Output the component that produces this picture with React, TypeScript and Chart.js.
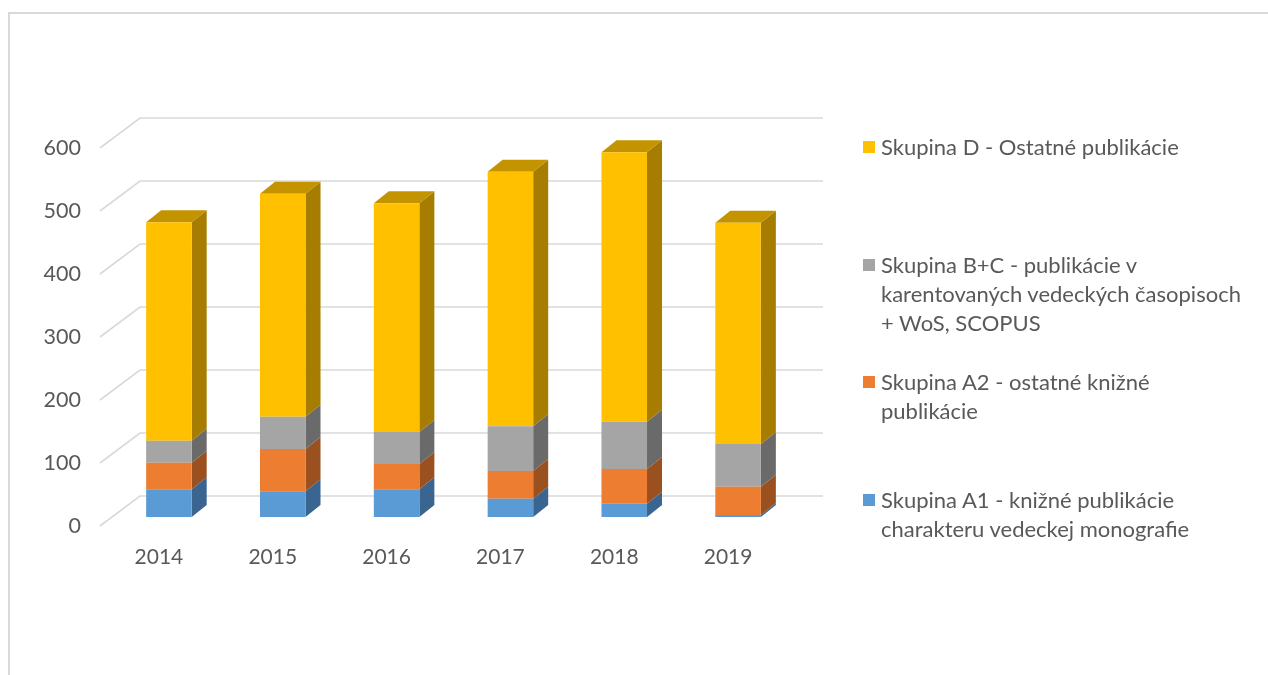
import React, { useEffect, useRef } from "react";
import { Chart, registerables } from "chart.js";

Chart.register(...registerables);

const years = ["2014", "2015", "2016", "2017", "2018", "2019"];
const groupA1 = [44, 41, 44, 29, 21, 3];
const groupA2 = [42, 67, 40, 44, 55, 45];
const groupBC = [35, 51, 51, 71, 75, 68];
const groupD = [347, 354, 363, 404, 428, 351];
const yTicks = [0, 100, 200, 300, 400, 500, 600];

const legendItems = [
  { color: "#ffc000", lines: ["Skupina D - Ostatné publikácie"], top: 132 },
  {
    color: "#a5a5a5",
    lines: ["Skupina B+C - publikácie v", "karentovaných vedeckých časopisoch", "+ WoS, SCOPUS"],
    top: 250,
  },
  { color: "#ed7d31", lines: ["Skupina A2 - ostatné knižné", "publikácie"], top: 367 },
  { color: "#5b9bd5", lines: ["Skupina A1 - knižné publikácie", "charakteru vedeckej monografie"], top: 485 },
];

const FONT = "Lato, 'Liberation Sans', sans-serif";
const TEXT = "#595959";

const DX = 15;
const DY = 12;
const WALL_DX = 28;
const WALL_DY = 21;

const sideColors = ["#3a6591", "#9b501f", "#6a6a6a", "#a67d00"];
const topColor = "#c49400";

const threeD = {
  id: "threeD",
  beforeDatasetsDraw(chart: any) {
    const ctx = chart.ctx;
    const area = chart.chartArea;
    const ys = chart.scales.y;
    ctx.save();
    ctx.strokeStyle = "#d9d9d9";
    ctx.lineWidth = 1.6;
    yTicks.forEach((v) => {
      const y = ys.getPixelForValue(v);
      ctx.beginPath();
      ctx.moveTo(area.left - 12, y + 9);
      ctx.lineTo(area.left + WALL_DX, y - WALL_DY);
      ctx.lineTo(area.right + WALL_DX, y - WALL_DY);
      ctx.stroke();
    });
    const n = chart.data.datasets.length;
    for (let d = 0; d < n; d++) {
      const meta = chart.getDatasetMeta(d);
      meta.data.forEach((bar: any) => {
        const { x, y, base, width } = bar.getProps(["x", "y", "base", "width"], true);
        const r = x + width / 2;
        const l = x - width / 2;
        const top = Math.min(y, base);
        const bot = Math.max(y, base);
        if (bot - top < 0.1) return;
        ctx.fillStyle = sideColors[d];
        ctx.beginPath();
        ctx.moveTo(r, top);
        ctx.lineTo(r + DX, top - DY);
        ctx.lineTo(r + DX, bot - DY);
        ctx.lineTo(r, bot);
        ctx.closePath();
        ctx.fill();
        if (d === n - 1) {
          ctx.fillStyle = topColor;
          ctx.beginPath();
          ctx.moveTo(l, top);
          ctx.lineTo(l + DX, top - DY);
          ctx.lineTo(r + DX, top - DY);
          ctx.lineTo(r, top);
          ctx.closePath();
          ctx.fill();
        }
      });
    }
    ctx.restore();
  },
};

export default function App() {
  const ref = useRef<HTMLCanvasElement | null>(null);

  useEffect(() => {
    if (!ref.current) return;
    const mk = (label: string, data: number[], color: string) => ({
      label,
      data,
      backgroundColor: color,
      borderWidth: 0,
      barPercentage: 0.4,
      categoryPercentage: 1,
    });
    const chart = new Chart(ref.current, {
      type: "bar",
      data: {
        labels: years,
        datasets: [
          mk("Skupina A1 - knižné publikácie charakteru vedeckej monografie", groupA1, "#5b9bd5"),
          mk("Skupina A2 - ostatné knižné publikácie", groupA2, "#ed7d31"),
          mk("Skupina B+C - publikácie v karentovaných vedeckých časopisoch + WoS, SCOPUS", groupBC, "#a5a5a5"),
          mk("Skupina D - Ostatné publikácie", groupD, "#ffc000"),
        ],
      },
      options: {
        animation: false,
        responsive: false,
        layout: { padding: { left: 0, top: 139, right: 473, bottom: 0 } },
        plugins: { legend: { display: false }, tooltip: { enabled: false } },
        scales: {
          x: {
            stacked: true,
            grid: { display: false, drawTicks: false },
            border: { display: false },
            ticks: {
              color: TEXT,
              font: { family: FONT, size: 21 },
              padding: 28,
              labelOffset: -10,
              maxRotation: 0,
            },
            afterFit: (s: any) => {
              s.height = 158;
            },
          },
          y: {
            stacked: true,
            min: 0,
            max: 600,
            grid: { display: false, drawTicks: false },
            border: { display: false },
            ticks: {
              stepSize: 100,
              color: TEXT,
              font: { family: FONT, size: 21.5 },
              padding: 31,
              labelOffset: 9,
            },
            afterFit: (s: any) => {
              s.width = 112;
            },
          },
        },
      },
      plugins: [threeD],
    });
    return () => chart.destroy();
  }, []);

  return (
    <div style={{ position: "fixed", left: 0, top: 0, width: 1268, height: 675, overflow: "hidden", background: "#fff" }}>
      <div
        style={{
          position: "absolute",
          left: 8,
          top: 12,
          width: 1400,
          height: 800,
          border: "2.5px solid #d9d9d9",
          boxSizing: "border-box",
        }}
      />
      <canvas ref={ref} width={1268} height={675} style={{ position: "absolute", left: 0, top: 0 }} />
      {legendItems.map((it, i) => (
        <div
          key={i}
          style={{
            position: "absolute",
            left: 881,
            top: it.top,
            fontFamily: FONT,
            fontSize: 22,
            lineHeight: "29px",
            color: TEXT,
            whiteSpace: "nowrap",
          }}
        >
          <span
            style={{
              position: "absolute",
              left: -18,
              top: 9,
              width: 12,
              height: 12,
              background: it.color,
            }}
          />
          {it.lines.map((ln, j) => (
            <div key={j}>{ln}</div>
          ))}
        </div>
      ))}
    </div>
  );
}
